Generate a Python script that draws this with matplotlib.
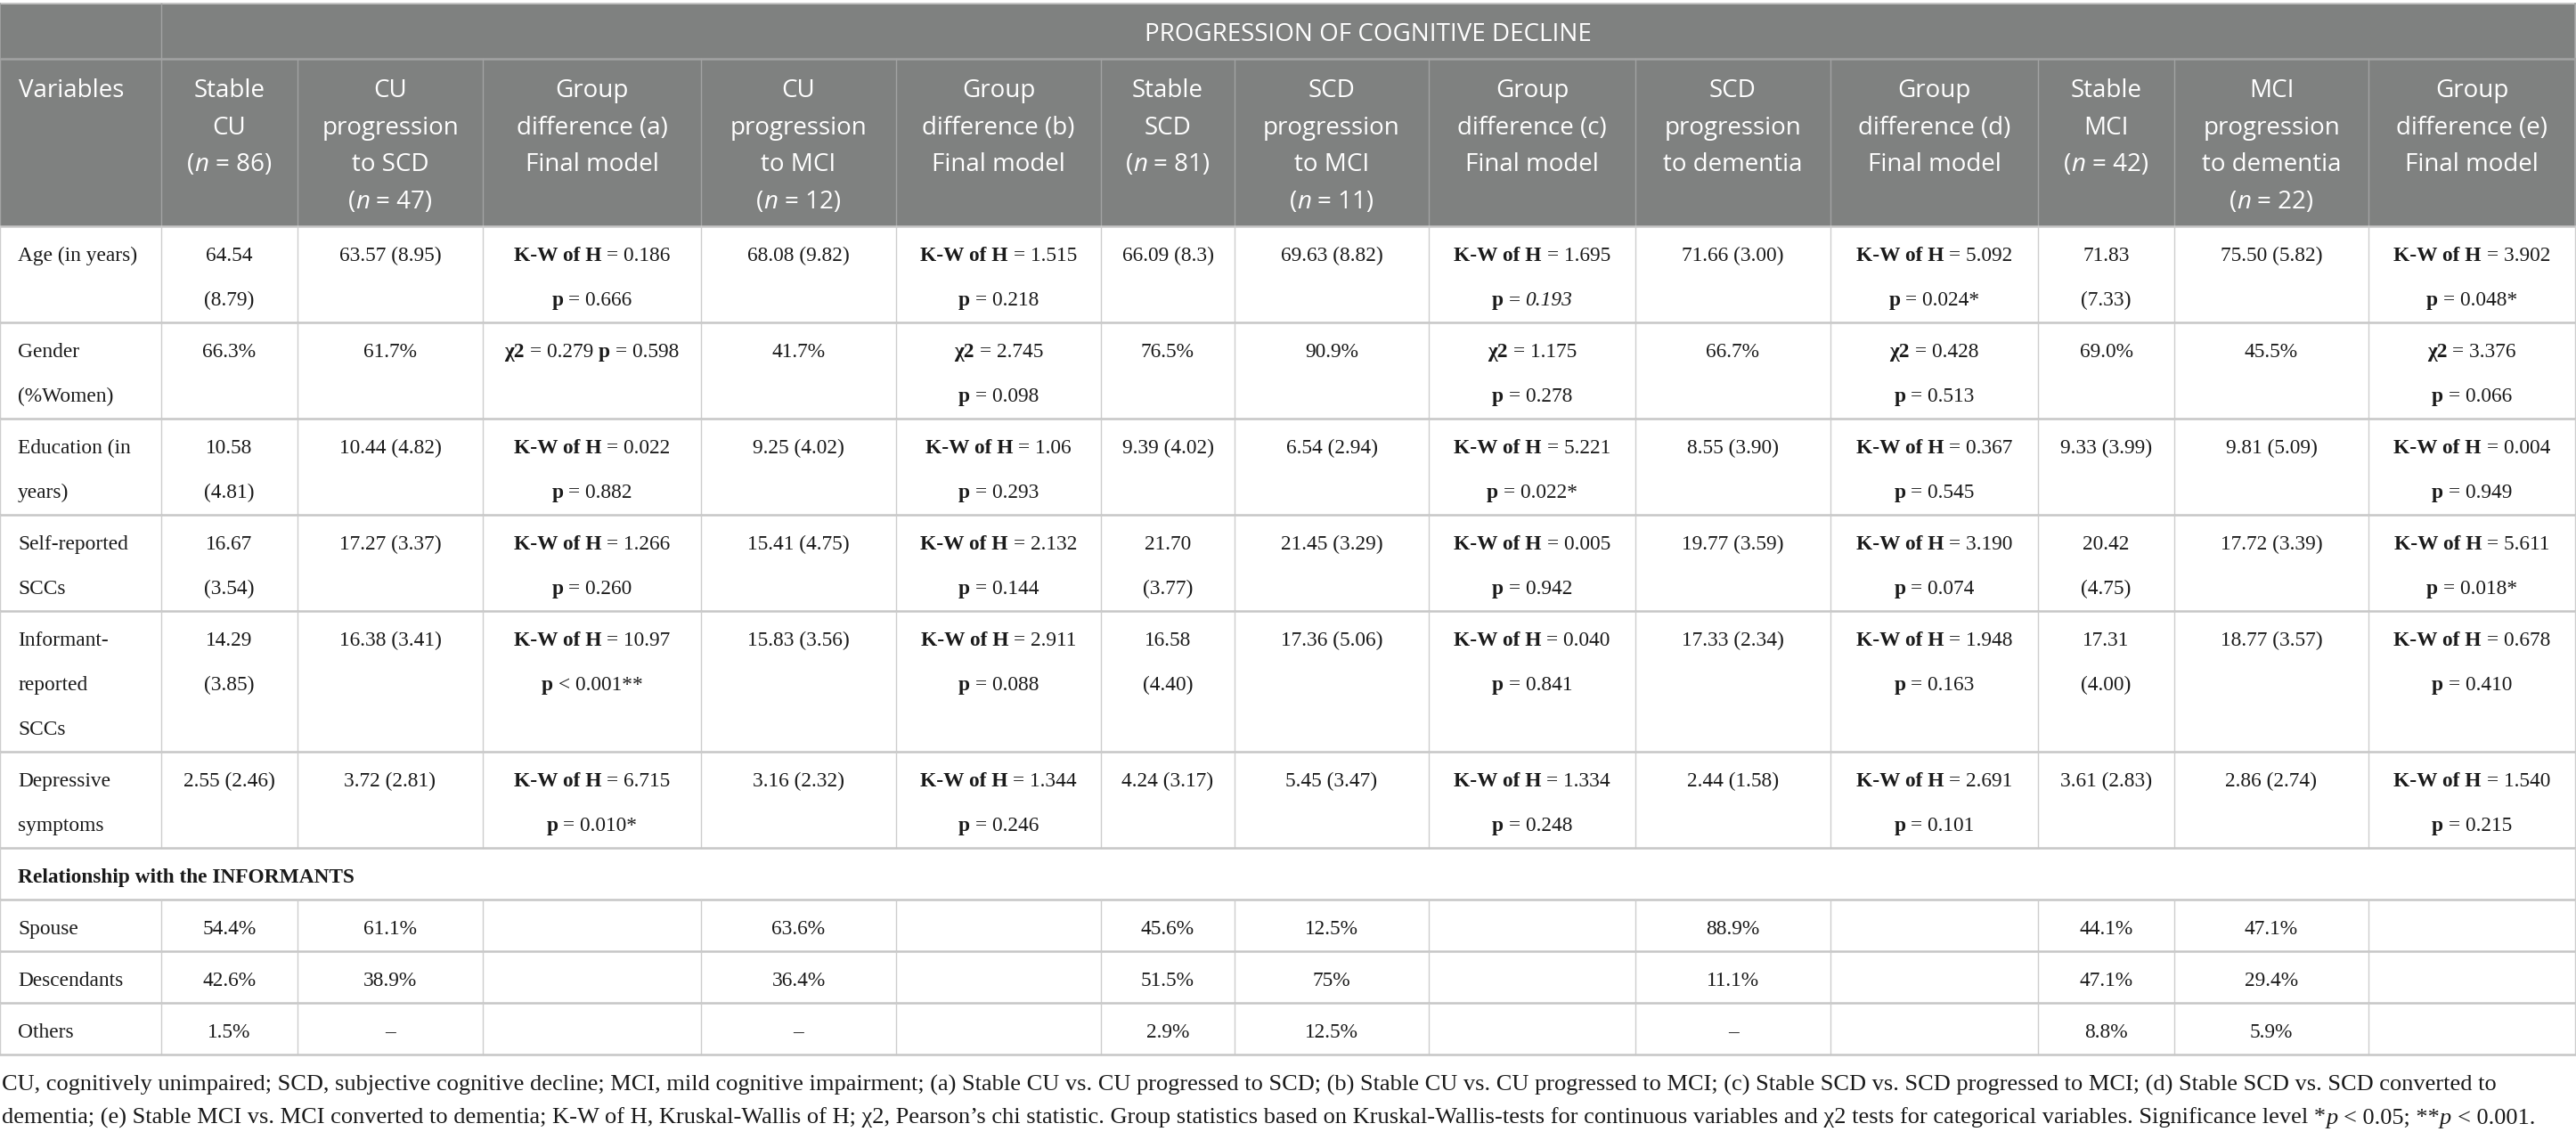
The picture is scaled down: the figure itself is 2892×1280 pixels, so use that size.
import matplotlib
matplotlib.use("Agg")
import matplotlib.pyplot as plt
from matplotlib.patches import Rectangle

# ---------------- data ----------------
title = "PROGRESSION OF COGNITIVE DECLINE"

headers = [
    "Variables",
    "Stable\nCU\n(~n~ = 86)",
    "CU\nprogression\nto SCD\n(~n~ = 47)",
    "Group\ndifference (a)\nFinal model",
    "CU\nprogression\nto MCI\n(~n~ = 12)",
    "Group\ndifference (b)\nFinal model",
    "Stable\nSCD\n(~n~ = 81)",
    "SCD\nprogression\nto MCI\n(~n~ = 11)",
    "Group\ndifference (c)\nFinal model",
    "SCD\nprogression\nto dementia",
    "Group\ndifference (d)\nFinal model",
    "Stable\nMCI\n(~n~ = 42)",
    "MCI\nprogression\nto dementia\n(~n~ = 22)",
    "Group\ndifference (e)\nFinal model",
]

KW = "^K-W of H^ = "
P = "^p^ = "
CHI = "^χ2^ = "

row_age = ["Age (in years)", "64.54\n(8.79)", "63.57 (8.95)", KW + "0.186\n" + P + "0.666",
           "68.08 (9.82)", KW + "1.515\n" + P + "0.218", "66.09 (8.3)", "69.63 (8.82)",
           KW + "1.695\n" + P + "~0.193~", "71.66 (3.00)", KW + "5.092\n" + P + "0.024*",
           "71.83\n(7.33)", "75.50 (5.82)", KW + "3.902\n" + P + "0.048*"]
row_gender = ["Gender\n(%Women)", "66.3%", "61.7%", CHI + "0.279 " + P + "0.598",
              "41.7%", CHI + "2.745\n" + P + "0.098", "76.5%", "90.9%",
              CHI + "1.175\n" + P + "0.278", "66.7%", CHI + "0.428\n" + P + "0.513",
              "69.0%", "45.5%", CHI + "3.376\n" + P + "0.066"]
row_edu = ["Education (in\nyears)", "10.58\n(4.81)", "10.44 (4.82)", KW + "0.022\n" + P + "0.882",
           "9.25 (4.02)", KW + "1.06\n" + P + "0.293", "9.39 (4.02)", "6.54 (2.94)",
           KW + "5.221\n" + P + "0.022*", "8.55 (3.90)", KW + "0.367\n" + P + "0.545",
           "9.33 (3.99)", "9.81 (5.09)", KW + "0.004\n" + P + "0.949"]
row_self = ["Self-reported\nSCCs", "16.67\n(3.54)", "17.27 (3.37)", KW + "1.266\n" + P + "0.260",
            "15.41 (4.75)", KW + "2.132\n" + P + "0.144", "21.70\n(3.77)", "21.45 (3.29)",
            KW + "0.005\n" + P + "0.942", "19.77 (3.59)", KW + "3.190\n" + P + "0.074",
            "20.42\n(4.75)", "17.72 (3.39)", KW + "5.611\n" + P + "0.018*"]
row_inf = ["Informant-\nreported\nSCCs", "14.29\n(3.85)", "16.38 (3.41)",
           KW + "10.97\n^p^ < 0.001**", "15.83 (3.56)", KW + "2.911\n" + P + "0.088",
           "16.58\n(4.40)", "17.36 (5.06)", KW + "0.040\n" + P + "0.841", "17.33 (2.34)",
           KW + "1.948\n" + P + "0.163", "17.31\n(4.00)", "18.77 (3.57)",
           KW + "0.678\n" + P + "0.410"]
row_dep = ["Depressive\nsymptoms", "2.55 (2.46)", "3.72 (2.81)", KW + "6.715\n" + P + "0.010*",
           "3.16 (2.32)", KW + "1.344\n" + P + "0.246", "4.24 (3.17)", "5.45 (3.47)",
           KW + "1.334\n" + P + "0.248", "2.44 (1.58)", KW + "2.691\n" + P + "0.101",
           "3.61 (2.83)", "2.86 (2.74)", KW + "1.540\n" + P + "0.215"]
section_label = "^Relationship with the INFORMANTS^"
row_spouse = ["Spouse", "54.4%", "61.1%", "", "63.6%", "", "45.6%", "12.5%", "", "88.9%", "",
              "44.1%", "47.1%", ""]
row_desc = ["Descendants", "42.6%", "38.9%", "", "36.4%", "", "51.5%", "75%", "", "11.1%", "",
            "47.1%", "29.4%", ""]
row_oth = ["Others", "1.5%", "–", "", "–", "", "2.9%", "12.5%", "", "–", "", "8.8%", "5.9%", ""]

footnote = [
    "CU, cognitively unimpaired; SCD, subjective cognitive decline; MCI, mild cognitive impairment; "
    "(a) Stable CU vs. CU progressed to SCD; (b) Stable CU vs. CU progressed to MCI; (c) Stable SCD vs. "
    "SCD progressed to MCI; (d) Stable SCD vs. SCD converted to",
    "dementia; (e) Stable MCI vs. MCI converted to dementia; K-W of H, Kruskal-Wallis of H; χ2, Pearson’s "
    "chi statistic. Group statistics based on Kruskal-Wallis-tests for continuous variables and χ2 tests "
    "for categorical variables. Significance level *~p~ < 0.05; **~p~ < 0.001.",
]

# ---------------- layout / style ----------------
W, H = 2892, 1280
col_edges = [0, 181, 334, 542, 787, 1006, 1236, 1386, 1604, 1836, 2055, 2288, 2441, 2659, 2891]
top_y, head1_bot, head2_bot = 4, 66, 254
header_bg = "#7f8180"
header_line = "#a2a3a3"
grid_h = "#c6c6c6"
grid_v = "#cdcdcd"
text_col = "#1a1a1a"
SANS = ["Open Sans", "DejaVu Sans"]
SERIF = ["Liberation Serif", "DejaVu Serif"]
head_fs = 20.0
body_fs = 16.8
body_lsp = 50
head_lsp = 41.7
head_cap = 0.714 * head_fs * 100 / 72
body_cap = 0.662 * body_fs * 100 / 72
foot_target_w = 2804

fig = plt.figure(figsize=(W / 100, H / 100), dpi=100)
ax = fig.add_axes([0, 0, 1, 1])
ax.set_xlim(0, W)
ax.set_ylim(H, 0)
ax.axis("off")
renderer = fig.canvas.get_renderer()


def parse(s):
    segs, buf, b, i = [], "", False, False
    for ch in s:
        if ch in "^~":
            if buf:
                segs.append((buf, b, i))
                buf = ""
            if ch == "^":
                b = not b
            else:
                i = not i
        else:
            buf += ch
    if buf:
        segs.append((buf, b, i))
    return segs


_wcache = {}


def width(t, kw):
    key = (t, tuple(sorted((k, str(v)) for k, v in kw.items())))
    if key in _wcache:
        return _wcache[key]
    a = ax.text(0, 0, "|" + t + "|", **kw)
    b = ax.text(0, 0, "||", **kw)
    w = a.get_window_extent(renderer).width - b.get_window_extent(renderer).width
    a.remove()
    b.remove()
    _wcache[key] = w
    return w


def layout_line(s, family, size, color):
    items = []
    total = 0
    for t, b, i in parse(s):
        kw = dict(family=family, size=size, weight="bold" if b else "normal",
                  style="italic" if i else "normal", color=color)
        sp = width(" ", kw)
        lead = len(t) - len(t.lstrip(" "))
        trail = len(t) - len(t.rstrip(" "))
        core = t.strip(" ")
        wc = width(core, kw) if core else 0
        items.append((core, kw, total + lead * sp))
        total += lead * sp + wc + trail * sp
    return items, total


def draw_line(x, yc, s, ha, family, size, color, cap):
    items, total = layout_line(s, family, size, color)
    x0 = x - total / 2 if ha == "center" else x
    yb = yc + cap / 2
    for core, kw, off in items:
        if core:
            ax.text(x0 + off, yb, core, ha="left", va="baseline", **kw)


def draw_cell(x, ytop, s, ha, family, size, color, lsp, off, cap):
    for k, line in enumerate(s.split("\n")):
        draw_line(x, ytop + off + k * lsp, line, ha, family, size, color, cap)


# header background
ax.add_patch(Rectangle((0, top_y), col_edges[-1], head2_bot - top_y, facecolor=header_bg,
                       edgecolor="none", zorder=0))
ax.plot([0, col_edges[-1]], [top_y, top_y], color="#c4c4c4", lw=1.4, zorder=1)
ax.plot([0, col_edges[-1]], [head1_bot, head1_bot], color=header_line, lw=1.8, zorder=1)
ax.plot([col_edges[1]] * 2, [top_y, head1_bot], color=header_line, lw=1.0, zorder=1)
for xe in col_edges:
    ax.plot([xe, xe], [head1_bot, head2_bot], color=header_line, lw=1.0, zorder=1)
ax.plot([0, 0], [top_y, head2_bot], color=header_line, lw=1.2, zorder=1)
ax.plot([col_edges[-1]] * 2, [top_y, head2_bot], color=header_line, lw=1.2, zorder=1)

draw_line((col_edges[1] + col_edges[-1]) / 2, (top_y + head1_bot) / 2 + 1, title, "center",
          SANS, head_fs, "white", head_cap)
for c, h in enumerate(headers):
    if c == 0:
        draw_cell(col_edges[0] + 21, head1_bot, h, "left", SANS, head_fs, "white", head_lsp, 33, head_cap)
    else:
        draw_cell((col_edges[c] + col_edges[c + 1]) / 2, head1_bot, h, "center", SANS, head_fs,
                  "white", head_lsp, 33, head_cap)

# body
body_rows = [row_age, row_gender, row_edu, row_self, row_inf, row_dep, None,
             row_spouse, row_desc, row_oth]
y = head2_bot
ax.plot([0, col_edges[-1]], [y, y], color=grid_h, lw=1.8, zorder=1)
for row in body_rows:
    if row is None:
        n = 1
        h = 8 + body_lsp * n
        draw_cell(col_edges[0] + 20, y, section_label, "left", SERIF, body_fs, text_col, body_lsp, 31, body_cap)
        for xe in (col_edges[0], col_edges[-1]):
            ax.plot([xe, xe], [y, y + h], color=grid_v, lw=1.0, zorder=1)
    else:
        n = max(s.count("\n") + 1 for s in row)
        h = 8 + body_lsp * n
        for c, s in enumerate(row):
            if not s:
                continue
            if c == 0:
                draw_cell(col_edges[0] + 20, y, s, "left", SERIF, body_fs, text_col, body_lsp, 31, body_cap)
            else:
                draw_cell((col_edges[c] + col_edges[c + 1]) / 2, y, s, "center", SERIF, body_fs,
                          text_col, body_lsp, 31, body_cap)
        for xe in col_edges:
            ax.plot([xe, xe], [y, y + h], color=grid_v, lw=1.0, zorder=1)
    y += h
    ax.plot([0, col_edges[-1]], [y, y], color=grid_h, lw=1.8, zorder=1)

# footnote: size chosen so that the first line spans the table width as in the original
_, w_ref = layout_line(footnote[0], SERIF, body_fs, text_col)
foot_fs = body_fs * foot_target_w / w_ref
foot_cap = 0.662 * foot_fs * 100 / 72
for k, line in enumerate(footnote):
    draw_line(2, y + 32 + k * 37, line, "left", SERIF, foot_fs, text_col, foot_cap)

fig.savefig("out.png", dpi=100, facecolor="white")
